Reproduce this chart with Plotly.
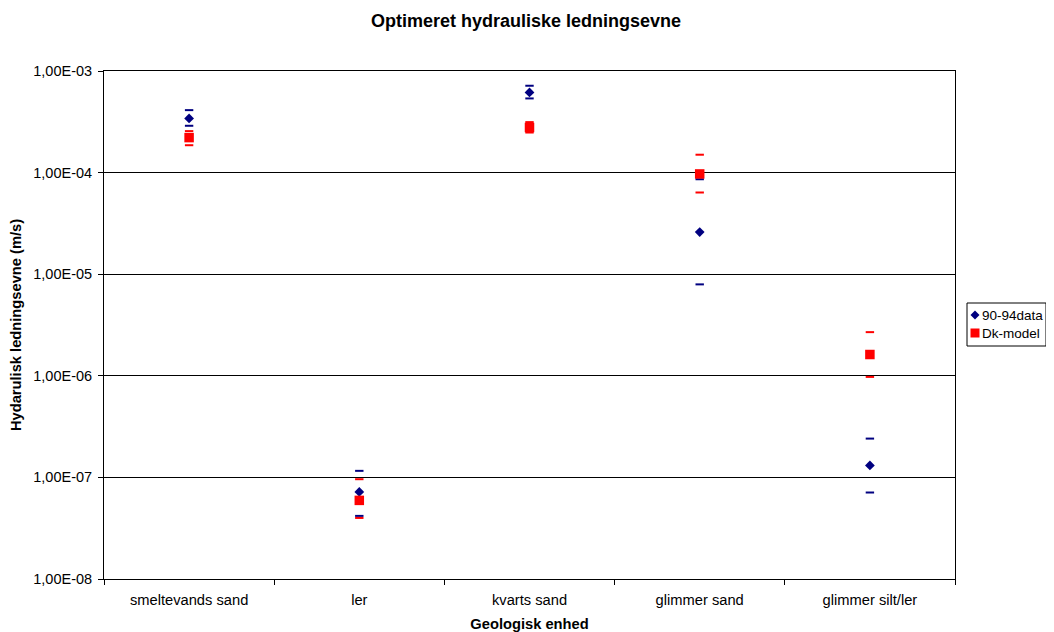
import plotly.graph_objects as go

categories = ["smeltevands sand", "ler", "kvarts sand", "glimmer sand", "glimmer silt/ler"]

data9094 = [3.41e-4, 7.2e-8, 6.16e-4, 2.6e-5, 1.31e-7]
data9094_upper = [4.12e-4, 1.16e-7, 7.16e-4, 8.6e-5, 2.41e-7]
data9094_lower = [2.89e-4, 4.18e-8, 5.37e-4, 7.94e-6, 7.1e-8]

dkmodel = [2.21e-4, 5.94e-8, 2.78e-4, 9.7e-5, 1.62e-6]
dkmodel_upper = [2.56e-4, 9.6e-8, 3.14e-4, 1.50e-4, 2.69e-6]
dkmodel_lower = [1.86e-4, 3.99e-8, 2.48e-4, 6.37e-5, 9.75e-7]

series_names = ["90-94data", "Dk-model"]

tick_vals = [1e-8, 1e-7, 1e-6, 1e-5, 1e-4, 1e-3]
tick_text = ["1,00E-08", "1,00E-07", "1,00E-06", "1,00E-05", "1,00E-04", "1,00E-03"]

BLUE = "#000080"
RED = "#FF0000"
FONT = "Liberation Sans, Arial, sans-serif"
FS = 14.7

# the page body adds an 8px margin; design in page pixels and shift
OFF = 8
W, H = 1054 - OFF, 632 - OFF
PL, PR, PT, PB = 104, 955, 71, 579  # plot area in page pixels
L, R, T, B = PL - OFF, W - (PR - OFF), PT - OFF, H - (PB - OFF)
PW, PH = W - L - R, H - T - B


def px(x):
    return (x - OFF - L) / PW


def py(y):
    return (H - B - (y - OFF)) / PH


fig = go.Figure()

cap = dict(symbol="line-ew", size=6)
# 90-94data
fig.add_trace(go.Scatter(x=categories, y=data9094_upper, mode="markers", showlegend=False,
                         hoverinfo="skip", marker=dict(**cap, line=dict(color=BLUE, width=2))))
fig.add_trace(go.Scatter(x=categories, y=data9094_lower, mode="markers", showlegend=False,
                         hoverinfo="skip", marker=dict(**cap, line=dict(color=BLUE, width=2))))
fig.add_trace(go.Scatter(x=categories, y=data9094, mode="markers", name=series_names[0],
                         showlegend=False,
                         marker=dict(symbol="diamond", size=7.5, color=BLUE)))
# Dk-model
fig.add_trace(go.Scatter(x=categories, y=dkmodel_upper, mode="markers", showlegend=False,
                         hoverinfo="skip", marker=dict(**cap, line=dict(color=RED, width=2))))
fig.add_trace(go.Scatter(x=categories, y=dkmodel_lower, mode="markers", showlegend=False,
                         hoverinfo="skip", marker=dict(**cap, line=dict(color=RED, width=2))))
fig.add_trace(go.Scatter(x=categories, y=dkmodel, mode="markers", name=series_names[1],
                         showlegend=False,
                         marker=dict(symbol="square", size=9.5, color=RED)))

# Legend (Excel-style compact box), page pixel coords
lx0, lx1, ly0, ly1 = 967, 1046, 303, 346
rows = [315, 333]
mx = 975
shapes = [
    dict(type="rect", xref="paper", yref="paper", x0=px(lx0), x1=px(lx1), y0=py(ly1), y1=py(ly0),
         line=dict(color="black", width=1), fillcolor="white", layer="above"),
    dict(type="path", xref="paper", yref="paper", layer="above",
         path=f"M {px(mx - 4.5)},{py(rows[0])} L {px(mx)},{py(rows[0] - 4.5)} "
              f"L {px(mx + 4.5)},{py(rows[0])} L {px(mx)},{py(rows[0] + 4.5)} Z",
         fillcolor=BLUE, line=dict(color=BLUE, width=0)),
    dict(type="rect", xref="paper", yref="paper", layer="above",
         x0=px(mx - 4.5), x1=px(mx + 4.5), y0=py(rows[1] + 4.5), y1=py(rows[1] - 4.5),
         fillcolor=RED, line=dict(color=RED, width=0)),
]
annotations = [
    dict(text=name, xref="paper", yref="paper", x=px(980), y=py(ry), xanchor="left",
         yanchor="middle", showarrow=False, font=dict(size=13.5, family=FONT, color="black"))
    for name, ry in zip(series_names, rows)
]

fig.update_layout(
    width=W, height=H,
    margin=dict(l=L, r=R, t=T, b=B, autoexpand=False),
    paper_bgcolor="white", plot_bgcolor="white",
    font=dict(family=FONT, size=FS, color="black"),
    title=dict(text="<b>Optimeret hydrauliske ledningsevne</b>", x=px(526), xanchor="center",
               xref="paper", y=1 - (21 - OFF) / H, yanchor="middle",
               font=dict(size=18, family=FONT)),
    showlegend=False,
    shapes=shapes,
    annotations=annotations,
)

fig.update_xaxes(
    type="category", categoryorder="array", categoryarray=categories,
    range=[-0.5, 4.5], automargin=False,
    tickson="boundaries", ticks="outside", ticklen=5, tickcolor="black",
    showline=True, linecolor="black", linewidth=1, mirror=True,
    showgrid=False, zeroline=False,
    tickfont=dict(size=FS), ticklabelstandoff=7,
    title=dict(text="<b>Geologisk enhed</b>", font=dict(size=FS), standoff=13),
)

fig.update_yaxes(
    type="log", range=[-8, -3], automargin=False,
    tickvals=tick_vals, ticktext=tick_text,
    ticks="outside", ticklen=5, tickcolor="black",
    showline=True, linecolor="black", linewidth=1, mirror=True,
    showgrid=True, gridcolor="black", gridwidth=1, zeroline=False,
    tickfont=dict(size=14.5), ticklabelstandoff=3,
    title=dict(text="<b>Hydarulisk ledningsevne (m/s)</b>", font=dict(size=FS), standoff=10),
)

fig.write_html("out.html")
